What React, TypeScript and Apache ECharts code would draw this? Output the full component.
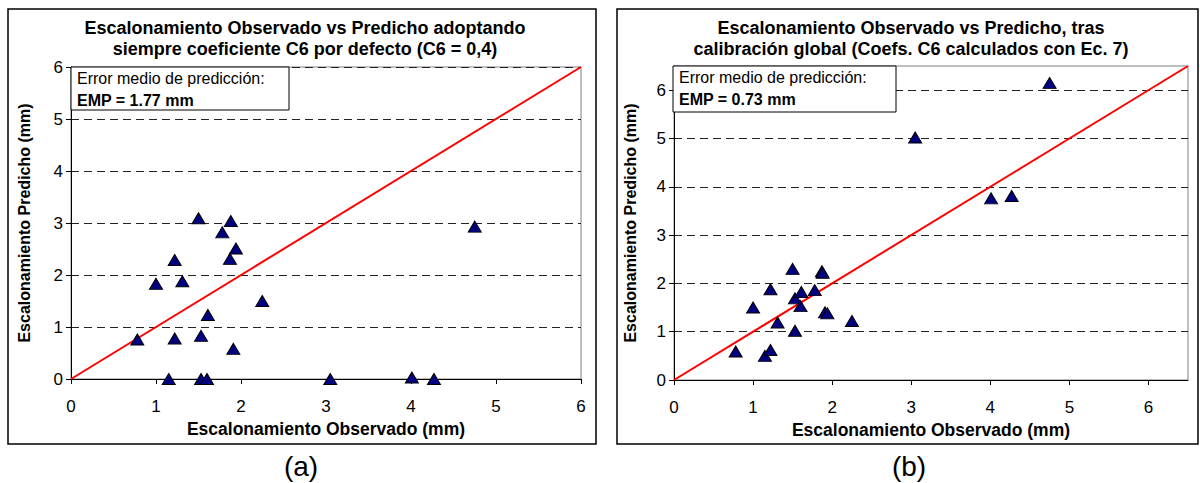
import React, { useEffect, useRef } from "react";
import * as echarts from "echarts";

// Observed faulting (mm), shared by both panels
const OBSERVED = [0.78, 1.0, 1.15, 1.22, 1.22, 1.31, 1.5, 1.53, 1.53, 1.6, 1.61, 1.78, 1.87, 1.88, 1.91, 1.94, 2.25, 3.05, 4.01, 4.27, 4.75];
// Predicted faulting with default C6 = 0.4 (panel a)
const PREDICTED_DEFAULT = [0.76, 1.83, 0, 2.29, 0.78, 1.88, 3.09, 0.83, 0, 0, 1.23, 2.82, 2.31, 3.04, 0.58, 2.51, 1.5, 0, 0.03, 0, 2.93];
// Predicted faulting after global calibration (panel b)
const PREDICTED_CALIBRATED = [0.59, 1.5, 0.5, 1.88, 0.62, 1.19, 2.3, 1.69, 1.02, 1.53, 1.82, 1.86, 2.25, 2.22, 1.4, 1.38, 1.22, 5.02, 3.76, 3.81, 6.15];

const TICKS = [0, 1, 2, 3, 4, 5, 6];
const AXIS_MAX_A = 6;
const AXIS_MAX_B = 6.5;

const TITLE_A = "Escalonamiento Observado vs Predicho adoptando\nsiempre coeficiente C6 por defecto (C6 = 0,4)";
const TITLE_B = "Escalonamiento Observado vs Predicho, tras\ncalibración global (Coefs. C6 calculados con Ec. 7)";
const X_NAME = "Escalonamiento Observado (mm)";
const Y_NAME = "Escalonamiento Predicho (mm)";
const BOX_LINE1 = "Error medio de predicción:";
const EMP_A = "EMP = 1.77 mm";
const EMP_B = "EMP = 0.73 mm";
const PANEL_LABELS = ["(a)", "(b)"];

const FONT = "'Liberation Sans', Arial, Helvetica, sans-serif";

const GRID_A = { left: 71, top: 67, width: 510, height: 312 };
const GRID_B = { left: 674, top: 66, width: 514, height: 314 };

function xAxisFor(gridIndex: number, max: number, nameGap: number) {
  return {
    gridIndex,
    type: "value",
    min: 0,
    max,
    interval: 1,
    axisLine: { lineStyle: { color: "#000", width: 1 } },
    axisTick: { inside: false, length: 5, lineStyle: { color: "#000" }, customValues: TICKS },
    axisLabel: {
      color: "#000",
      fontSize: 17,
      fontFamily: FONT,
      margin: 19,
      customValues: TICKS,
    },
    splitLine: { show: false },
    name: X_NAME,
    nameLocation: "middle",
    nameGap,
    nameTextStyle: { color: "#000", fontSize: 17.5, fontWeight: "bold", fontFamily: FONT },
  };
}

function yAxisFor(gridIndex: number, max: number, nameGap: number) {
  return {
    gridIndex,
    type: "value",
    min: 0,
    max,
    interval: 1,
    axisLine: { show: true, lineStyle: { color: "#000", width: 1 } },
    axisTick: { show: true, inside: false, length: 5, lineStyle: { color: "#000" }, customValues: TICKS },
    axisLabel: {
      color: "#000",
      fontSize: 17,
      fontFamily: FONT,
      margin: 8,
      customValues: TICKS,
    },
    splitLine: {
      show: true,
      lineStyle: { color: "#222", width: 1, type: [8, 5] },
    },
    name: Y_NAME,
    nameLocation: "middle",
    nameGap,
    nameTextStyle: { color: "#000", fontSize: 16, fontWeight: "bold", fontFamily: FONT },
  };
}

function scatterSeries(idx: number, predicted: number[]) {
  return {
    type: "scatter",
    xAxisIndex: idx,
    yAxisIndex: idx,
    symbol: "triangle",
    symbolSize: [13, 11],
    clip: false,
    itemStyle: { color: "#000080", borderColor: "#000", borderWidth: 1, opacity: 1 },
    data: OBSERVED.map((x, i) => [x, predicted[i]]),
    z: 5,
  };
}

function identityLine(idx: number, max: number) {
  return {
    type: "line",
    xAxisIndex: idx,
    yAxisIndex: idx,
    symbol: "none",
    lineStyle: { color: "#ff0000", width: 2 },
    data: [
      [0, 0],
      [max, max],
    ],
    z: 4,
  };
}

function infoBox(x: number, y: number, w: number, h: number, emp: string) {
  return {
    type: "group",
    z: 100,
    children: [
      {
        type: "rect",
        z: 100,
        shape: { x, y, width: w, height: h },
        style: { fill: "#fff", stroke: "#000", lineWidth: 1 },
      },
      {
        type: "text",
        z: 101,
        x: x + 6,
        y: y + 11,
        style: {
          text: BOX_LINE1,
          fill: "#000",
          font: `16px ${FONT}`,
          verticalAlign: "middle",
        },
      },
      {
        type: "text",
        z: 101,
        x: x + 6,
        y: y + 33,
        style: {
          text: emp,
          fill: "#000",
          font: `bold 16px ${FONT}`,
          verticalAlign: "middle",
        },
      },
    ],
  };
}

export default function App() {
  const ref = useRef<HTMLDivElement>(null);

  useEffect(() => {
    if (!ref.current) return;
    const chart = echarts.init(ref.current, undefined, { renderer: "svg" });

    const option = {
      animation: false,
      backgroundColor: "#fff",
      grid: [
        { ...GRID_A, show: true, borderColor: "#808080", borderWidth: 1, backgroundColor: "transparent" },
        { ...GRID_B, show: true, borderColor: "#808080", borderWidth: 1, backgroundColor: "transparent" },
      ],
      xAxis: [xAxisFor(0, AXIS_MAX_A, 27), xAxisFor(1, AXIS_MAX_B, 41)],
      yAxis: [yAxisFor(0, AXIS_MAX_A, 39), yAxisFor(1, AXIS_MAX_B, 36)],
      series: [
        identityLine(0, AXIS_MAX_A),
        scatterSeries(0, PREDICTED_DEFAULT),
        identityLine(1, AXIS_MAX_B),
        scatterSeries(1, PREDICTED_CALIBRATED),
      ],
      graphic: [
        {
          type: "rect",
          z: 90,
          shape: { x: 8, y: 9, width: 588, height: 435 },
          style: { fill: "rgba(0,0,0,0)", stroke: "#000", lineWidth: 1.5 },
        },
        {
          type: "rect",
          z: 90,
          shape: { x: 617, y: 9, width: 581, height: 435 },
          style: { fill: "rgba(0,0,0,0)", stroke: "#000", lineWidth: 1.5 },
        },
        {
          type: "text",
          z: 100,
          x: 305,
          y: 17,
          style: {
            text: TITLE_A,
            fill: "#000",
            font: `bold 18px ${FONT}`,
            align: "center",
            verticalAlign: "top",
            lineHeight: 21,
          },
        },
        {
          type: "text",
          z: 100,
          x: 911,
          y: 17,
          style: {
            text: TITLE_B,
            fill: "#000",
            font: `bold 18px ${FONT}`,
            align: "center",
            verticalAlign: "top",
            lineHeight: 21,
          },
        },
        infoBox(71, 67, 218, 43, EMP_A),
        infoBox(673, 66, 223, 46, EMP_B),
        {
          type: "text",
          z: 100,
          x: 301,
          y: 466,
          style: {
            text: PANEL_LABELS[0],
            fill: "#000",
            font: `28px ${FONT}`,
            align: "center",
            verticalAlign: "middle",
          },
        },
        {
          type: "text",
          z: 100,
          x: 909,
          y: 466,
          style: {
            text: PANEL_LABELS[1],
            fill: "#000",
            font: `28px ${FONT}`,
            align: "center",
            verticalAlign: "middle",
          },
        },
      ],
    };

    chart.setOption(option as any);
    return () => chart.dispose();
  }, []);

  return (
    <div
      ref={ref}
      style={{ position: "fixed", left: 0, top: 0, width: 1200, height: 483 }}
    />
  );
}
